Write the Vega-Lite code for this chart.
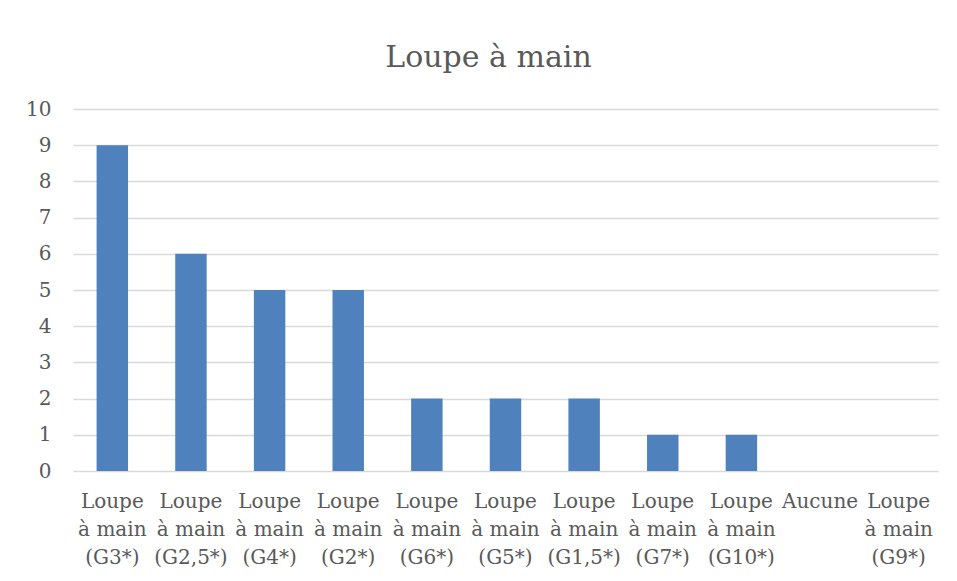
{
  "$schema": "https://vega.github.io/schema/vega-lite/v6.json",
  "autosize": {"type": "none"},
  "width": 865,
  "height": 362,
  "padding": {"left": 73, "top": 109, "right": 19, "bottom": 110},
  "background": "white",
  "title": {
    "text": "Loupe à main",
    "font": "DejaVu Serif",
    "fontSize": 30,
    "fontWeight": "normal",
    "color": "#595959",
    "anchor": "middle",
    "offset": 26,
    "dx": -17
  },
  "data": {
    "values": [
      {"cat": "Loupe\nà main\n(G3*)", "n": 9},
      {"cat": "Loupe\nà main\n(G2,5*)", "n": 6},
      {"cat": "Loupe\nà main\n(G4*)", "n": 5},
      {"cat": "Loupe\nà main\n(G2*)", "n": 5},
      {"cat": "Loupe\nà main\n(G6*)", "n": 2},
      {"cat": "Loupe\nà main\n(G5*)", "n": 2},
      {"cat": "Loupe\nà main\n(G1,5*)", "n": 2},
      {"cat": "Loupe\nà main\n(G7*)", "n": 1},
      {"cat": "Loupe\nà main\n(G10*)", "n": 1},
      {"cat": "Aucune", "n": 0},
      {"cat": "Loupe\nà main\n(G9*)", "n": 0}
    ]
  },
  "mark": {"type": "bar", "color": "#4f81bd"},
  "encoding": {
    "x": {
      "field": "cat",
      "type": "nominal",
      "sort": null,
      "title": null,
      "scale": {"paddingInner": 0.6, "paddingOuter": 0.3},
      "axis": {
        "labelExpr": "split(datum.label, '\\n')",
        "labelAngle": 0,
        "labelFont": "DejaVu Serif",
        "labelFontSize": 20,
        "labelColor": "#595959",
        "labelLineHeight": 28,
        "labelPadding": 20,
        "labelBaseline": "top",
        "ticks": false,
        "domain": false,
        "grid": false
      }
    },
    "y": {
      "field": "n",
      "type": "quantitative",
      "title": null,
      "scale": {"domain": [0, 10]},
      "axis": {
        "values": [0, 1, 2, 3, 4, 5, 6, 7, 8, 9, 10],
        "labelFont": "DejaVu Serif",
        "labelFontSize": 20,
        "labelColor": "#595959",
        "labelPadding": 22,
        "ticks": false,
        "domain": false,
        "grid": true,
        "gridColor": "#d9d9d9",
        "gridWidth": 1.3
      }
    }
  },
  "config": {"view": {"stroke": null}}
}
